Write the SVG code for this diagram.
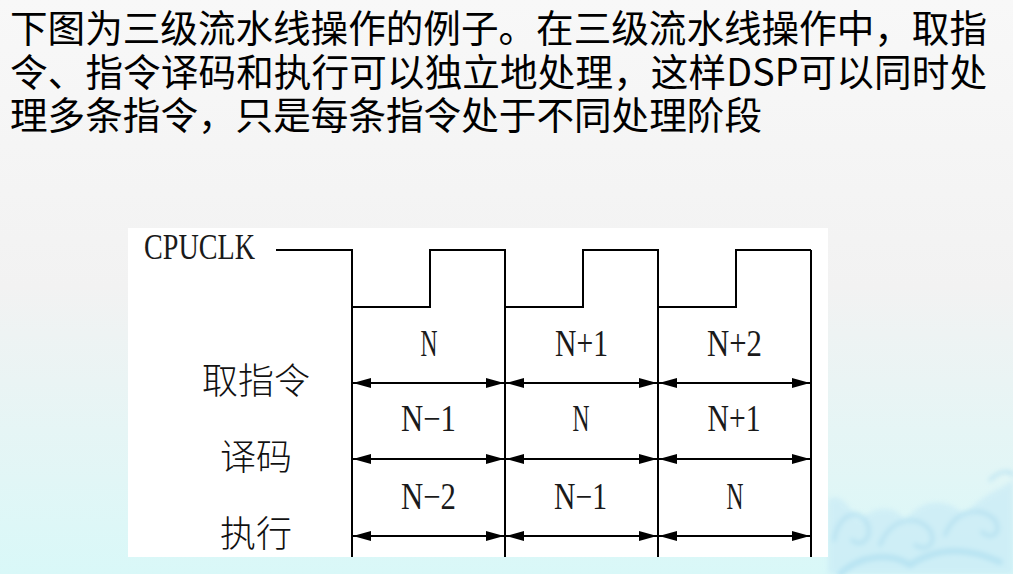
<svg xmlns="http://www.w3.org/2000/svg" width="1013" height="574" viewBox="0 0 1013 574">
  <defs>
    <linearGradient id="bg" x1="0" y1="0" x2="0" y2="1">
      <stop offset="0" stop-color="#f8f8f8"/>
      <stop offset="0.5" stop-color="#f2f2f2"/>
      <stop offset="1" stop-color="#d9f8f8"/>
    </linearGradient>
    <filter id="blur" x="-20%" y="-20%" width="140%" height="140%">
      <feGaussianBlur stdDeviation="2.5"/>
    </filter>
    <marker id="ah" viewBox="0 0 18 10" refX="18" refY="5" markerWidth="18" markerHeight="10" markerUnits="userSpaceOnUse" orient="auto-start-reverse">
      <path d="M0,0 L18,5 L0,10 Z" fill="#000"/>
    </marker>
    <style>
      .title { font-family: "Noto Sans CJK SC", "Noto Sans", sans-serif; font-size: 37.6px; fill: #000; }
      .lat { font-family: "Liberation Serif", "DejaVu Serif", serif; font-size: 37px; fill: #1a1a1a; text-anchor: middle; }
      .cjk { font-family: "Noto Sans CJK SC", sans-serif; font-size: 36px; font-weight: 300; fill: #111; text-anchor: middle; }
      .wire { fill: none; stroke: #000; stroke-width: 2; }
      .arr { stroke: #000; stroke-width: 2; marker-start: url(#ah); marker-end: url(#ah); }
      .swirl { fill: none; stroke: #9fd6ef; stroke-linecap: round; }
    </style>
  </defs>

  <rect id="background" x="0" y="0" width="1013" height="574" fill="url(#bg)"/>
  <g id="decor" filter="url(#blur)" opacity="0.6">
    <path d="M828,574 L828,500 C840,490 850,510 860,520 C875,505 895,505 905,520 C925,495 950,500 965,515 C980,495 1000,490 1013,480 L1013,574 Z" fill="#c6e9f6"/>
    <path class="swirl" stroke-width="4" d="M834,540 C838,515 858,505 868,525 C872,540 860,548 852,540"/>
    <path class="swirl" stroke-width="4" d="M880,545 C890,520 915,512 930,530 C938,545 925,552 915,545"/>
    <path class="swirl" stroke-width="4" d="M945,535 C955,510 980,505 995,520 C1003,535 990,540 982,532"/>
    <path class="swirl" stroke-width="6" d="M840,574 C860,555 890,552 910,565 C935,548 965,546 1000,562"/>
    <path class="swirl" stroke-width="3" d="M990,480 C1000,470 1010,470 1013,475"/>
  </g>

  <g id="title">
    <text class="title" x="10" y="42" textLength="977" lengthAdjust="spacing">下图为三级流水线操作的例子。在三级流水线操作中，取指</text>
    <text class="title" x="10" y="86" textLength="977" lengthAdjust="spacing">令、指令译码和执行可以独立地处理，这样DSP可以同时处</text>
    <text class="title" x="10" y="129" textLength="752" lengthAdjust="spacing">理多条指令，只是每条指令处于不同处理阶段</text>
  </g>

  <rect id="panel" x="128" y="228" width="700" height="329" fill="#ffffff"/>

  <g id="clock">
    <text x="144" y="259" font-family="Liberation Serif, serif" font-size="36" fill="#1a1a1a" textLength="111" lengthAdjust="spacingAndGlyphs">CPUCLK</text>
    <path class="wire" d="M276,250 H352 V307 H430 V250 H505 V307 H583 V250 H658 V307 H736 V250 H811"/>
  </g>

  <g id="dividers">
    <path class="wire" d="M352,307 V557 M505,307 V557 M658,307 V557 M811,250 V557"/>
  </g>

  <g id="stage-fetch">
    <text class="cjk" x="256" y="394">取指令</text>
    <text class="lat" x="429" y="356" textLength="17" lengthAdjust="spacingAndGlyphs">N</text>
    <text class="lat" x="581.5" y="356" textLength="53" lengthAdjust="spacingAndGlyphs">N+1</text>
    <text class="lat" x="734.5" y="356" textLength="55" lengthAdjust="spacingAndGlyphs">N+2</text>
  </g>

  <g id="stage-decode">
    <text class="cjk" x="256" y="470">译码</text>
    <text class="lat" x="428.5" y="431" textLength="55" lengthAdjust="spacingAndGlyphs">N−1</text>
    <text class="lat" x="581" y="431" textLength="17" lengthAdjust="spacingAndGlyphs">N</text>
    <text class="lat" x="734" y="431" textLength="53" lengthAdjust="spacingAndGlyphs">N+1</text>
  </g>

  <g id="stage-execute">
    <text class="cjk" x="256" y="547">执行</text>
    <text class="lat" x="428.5" y="509" textLength="55" lengthAdjust="spacingAndGlyphs">N−2</text>
    <text class="lat" x="580.5" y="509" textLength="53" lengthAdjust="spacingAndGlyphs">N−1</text>
    <text class="lat" x="735" y="509" textLength="17" lengthAdjust="spacingAndGlyphs">N</text>
  </g>

  <g id="connectors">
    <line class="arr" x1="353" y1="383" x2="504" y2="383"/>
    <line class="arr" x1="506" y1="383" x2="657" y2="383"/>
    <line class="arr" x1="659" y1="383" x2="810" y2="383"/>
    <line class="arr" x1="353" y1="459" x2="504" y2="459"/>
    <line class="arr" x1="506" y1="459" x2="657" y2="459"/>
    <line class="arr" x1="659" y1="459" x2="810" y2="459"/>
    <line class="arr" x1="353" y1="536" x2="504" y2="536"/>
    <line class="arr" x1="506" y1="536" x2="657" y2="536"/>
    <line class="arr" x1="659" y1="536" x2="810" y2="536"/>
  </g>
</svg>
